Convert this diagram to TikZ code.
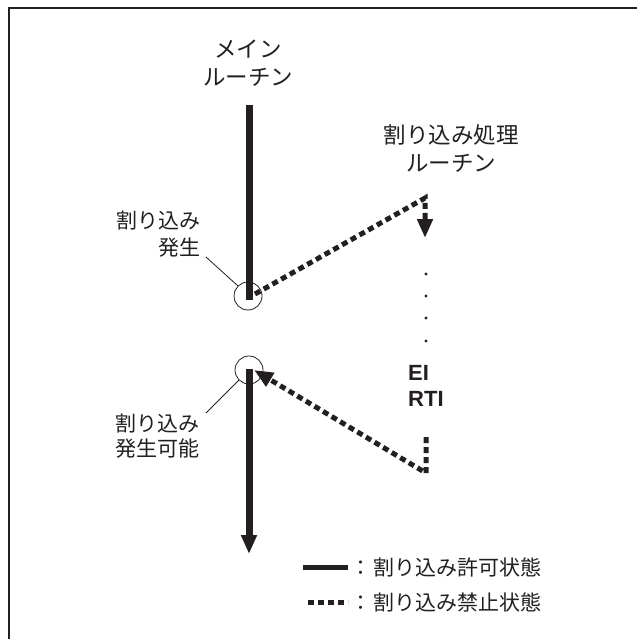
\documentclass[tikz,border=0pt]{standalone}
\usepackage{fontspec}
\setmainfont{Noto Sans CJK JP}
\newfontfamily\latinbold{Liberation Sans}
\usetikzlibrary{arrows.meta}
\definecolor{ink}{HTML}{231F20}
\begin{document}
\begin{tikzpicture}[x=1pt,y=-1pt,
  solidline/.style={draw=ink,line width=7pt},
  dotline/.style={draw=ink,line width=5pt,dash pattern=on 6pt off 4pt},
  bigtip/.style={-{Triangle[length=19pt,width=15pt]}},
  lbl/.style={font=\fontsize{21}{24}\selectfont,text=ink,inner sep=0pt},
  ttl/.style={font=\fontsize{22.5}{28}\selectfont,text=ink,inner sep=0pt,align=center},
  ring/.style={draw=ink,line width=0.8pt,circle,minimum size=28pt,inner sep=0pt},
  leader/.style={draw=ink,line width=0.8pt}]
\useasboundingbox (0,0) rectangle (637,639);
\fill[white] (0,0) rectangle (637,639);
% frame (top and left edges)
\coordinate (fa) at (8.5,639);
\coordinate (fb) at (8.5,8.5);
\coordinate (fc) at (637,8.5);
\draw[ink,line width=2pt] (fa) -- (fb) -- (fc);

% titles
\node[ttl] (main) at (248,63) {メイン\\ルーチン};
\node[ttl] (isr) at (451,149) {割り込み処理\\ルーチン};

% main routine
\coordinate (m1) at (249,105);
\coordinate (m2) at (249,300);
\coordinate (m3) at (249,369);
\coordinate (m4) at (249,554);
\draw[solidline] (m1) -- (m2);
\draw[solidline,bigtip] (m3) -- (m4);

% circles
\node[ring] (c1) at (248,296) {};
\node[ring] (c2) at (249,370) {};

% labels
\node[lbl,anchor=east] (l1a) at (201,221) {割り込み};
\node[lbl,anchor=east] (l1b) at (201,248) {発生};
\node[lbl,anchor=west] (l2a) at (115,424) {割り込み};
\node[lbl,anchor=west] (l2b) at (115,449) {発生可能};
\coordinate (p1) at (206,257);
\coordinate (p2) at (206,413);
\draw[leader] (p1) -- (c1.135);
\draw[leader] (p2) -- (c2.225);

% interrupt routine
\coordinate (d1) at (255,294);
\coordinate (d2) at (425,198);
\coordinate (d3) at (425,238);
\draw[dotline,bigtip] (d1) -- (d2) -- (d3);
\foreach \yy [count=\i] in {274,296,318,341}
  \fill[ink] (426,\yy) circle (1.6pt);
\node[font=\latinbold\bfseries\fontsize{22}{26}\selectfont,text=ink,anchor=west,inner sep=0pt,align=left] (ei) at (408,386) {EI\\RTI};
\coordinate (e1) at (426,437);
\coordinate (e2) at (426,473);
\coordinate (e3) at (254,370);
\draw[dotline,bigtip] (e1) -- (e2) -- (e3);

% legend
\coordinate (ls1) at (303,567);
\coordinate (ls2) at (348,567);
\coordinate (ld1) at (308,602);
\coordinate (ld2) at (348,602);
\draw[draw=ink,line width=5pt] (ls1) -- (ls2);
\draw[dotline] (ld1) -- (ld2);
\node[lbl,anchor=west] (lg1) at (350,567) {：\hspace{2pt}割り込み許可状態};
\node[lbl,anchor=west] (lg2) at (350,602) {：\hspace{2pt}割り込み禁止状態};
\end{tikzpicture}
\end{document}
